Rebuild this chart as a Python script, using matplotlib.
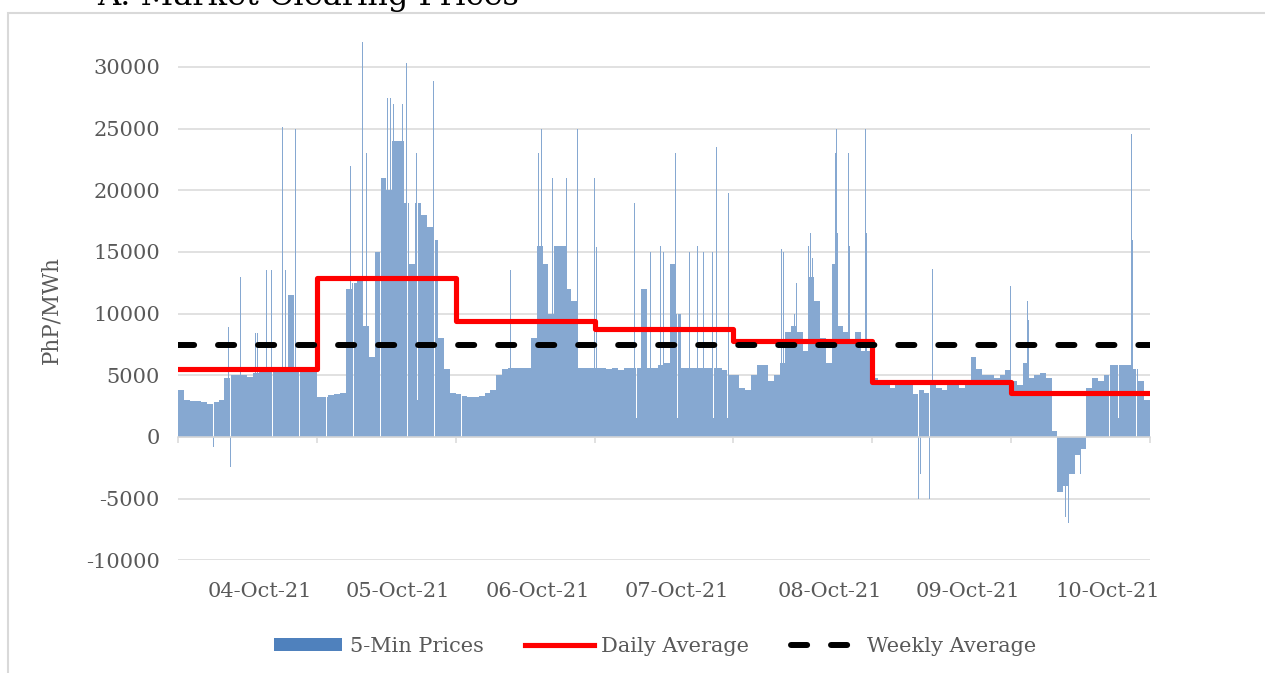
import matplotlib
matplotlib.use('Agg')
import matplotlib.pyplot as plt
from matplotlib.patches import Rectangle, Patch
from matplotlib.lines import Line2D
import numpy as np

plt.rcParams['axes.unicode_minus'] = False

# hourly price level (PhP/MWh), 24 values per day
oct04 = [3800, 3000, 2900, 2900, 2800, 2700, 2800, 3000, 4800, 5000, 5000, 5000,
         4900, 5200, 5400, 5500, 5500, 5500, 5500, 11500, 5500, 5500, 5500, 5500]
oct05 = [3200, 3200, 3400, 3500, 3600, 12000, 12500, 13000, 9000, 6500, 15000, 21000,
         20000, 24000, 24000, 19000, 14000, 19000, 18000, 17000, 16000, 8000, 5500, 3600]
oct06 = [3500, 3300, 3200, 3200, 3300, 3600, 3800, 5000, 5500, 5600, 5600, 5600,
         5600, 8000, 15500, 14000, 10000, 15500, 15500, 12000, 11000, 5600, 5600, 5600]
oct07 = [5600, 5600, 5500, 5600, 5400, 5600, 5600, 5600, 12000, 5600, 5600, 5800,
         6000, 14000, 10000, 5600, 5600, 5600, 5600, 5600, 5600, 5600, 5400, 5000]
oct08 = [5000, 4000, 3800, 5000, 5800, 5800, 4500, 5000, 6000, 8500, 9000, 8500,
         7000, 13000, 11000, 8000, 6000, 14000, 9000, 8500, 7500, 8500, 7000, 7000]
oct09 = [4800, 4300, 4200, 4000, 4300, 4400, 4300, 3500, 3800, 3600, 4200, 4000,
         3800, 4200, 4600, 4000, 4400, 6500, 5500, 5000, 5000, 4800, 5000, 5400]
oct10 = [4500, 4200, 6000, 4800, 5000, 5200, 4800, 500, -4500, -4000, -3000, -1500,
         -1000, 4000, 4800, 4500, 5000, 5800, 5800, 5800, 5800, 5500, 4500, 3000]

# single 5-min intervals (interval index, price) that stand out from the hourly level
spikes = [
    # 04-Oct
    (60, -1000), (73, -800), (85, -1000), (95, -3600), (104, 8900), (108, -2400),
    (120, -4500), (122, 14900), (129, 13000), (160, 8400), (164, 8400), (183, 13500),
    (193, 13500), (197, 10000), (216, 25100), (217, 13500), (222, 13500), (226, 1500),
    (232, 21500), (236, 22000), (243, 25000), (253, 24000), (255, 13500), (265, 13500),
    # 05-Oct
    (357, 22000), (365, 23000), (373, -1000), (375, 22000), (382, 32000), (390, 23000),
    (400, 4000), (419, 28300), (425, 27000), (427, 32000), (431, 8000), (434, 27500),
    (440, 27500), (446, 27000), (456, 27500), (465, 27000), (473, 30300), (485, 9000),
    (487, 24600), (494, 23000), (496, 3000), (504, 19500), (512, 23000), (529, 28900),
    (533, 8000), (543, 28400), (545, 22000), (564, 3000),
    # 06-Oct
    (601, 1500), (674, 13000), (678, 13500), (684, 1500), (689, 13500), (703, 21000),
    (713, 32000), (734, 15400), (747, 23000), (753, 25000), (759, 25000), (765, 2000),
    (767, 17600), (776, 21000), (784, 25000), (788, 28400), (796, 22000), (805, 21000),
    (815, 30900), (819, 25000), (823, 23000), (828, 25000), (840, 19000), (850, 24200),
    (863, 21000),
    # 07-Oct
    (867, 15400), (869, 1500), (900, 15400), (904, 14000), (933, 15400), (946, 19000),
    (950, 1500), (952, 15000), (958, 15000), (966, 15500), (968, 23000), (970, 15500),
    (979, 15000), (989, 23000), (991, 25000), (993, 23500), (1000, 15500), (1006, 15000),
    (1031, 23000), (1035, 1500), (1043, 25000), (1045, 23000), (1060, 15000),
    (1077, 15500), (1089, 15000), (1103, 23200), (1108, 15000), (1110, 1500),
    (1116, 23500), (1128, 25000), (1130, 15500), (1139, 1500), (1141, 19800), (1151, 18400),
    # 08-Oct
    (1244, 15200), (1246, 19000), (1251, 15200), (1255, 15000), (1271, -3200),
    (1278, 10000), (1282, 12500), (1302, 1500), (1307, 15500), (1311, 16500),
    (1315, 14500), (1323, 15500), (1363, 23000), (1365, 25000), (1367, 16500),
    (1373, 12000), (1390, 23000), (1392, 15500), (1402, 15500), (1408, 2000),
    (1410, 14500), (1414, 16500), (1425, 25000), (1427, 16500), (1435, 9500),
    # 09-Oct
    (1522, 1000), (1535, -5000), (1539, -3000), (1545, -8000), (1558, -5000),
    (1564, 13600), (1655, 15500), (1657, 10000), (1680, 15500), (1682, 15400),
    (1713, 9500), (1726, 12200),
    # 10-Oct
    (1761, 11000), (1763, 9500), (1823, -8200), (1829, -7000), (1840, -6500),
    (1846, -7000), (1854, -5000), (1871, -3000), (1879, -4700), (1908, 9100),
    (1918, 13300), (1935, 16000), (1939, 25000), (1941, 23000), (1943, 16000),
    (1950, 1500), (1964, 9000), (1977, 24600), (1979, 16000), (1987, 7000),
]

daily_avg = [5513, 12870, 9405, 8757, 7784, 4487, 3540]
weekly_avg = 7459
day_labels = ['04-Oct-21', '05-Oct-21', '06-Oct-21', '07-Oct-21',
              '08-Oct-21', '09-Oct-21', '10-Oct-21']

# 5-min series: hourly level on every interval, then the single intervals
hourly = np.concatenate([oct04, oct05, oct06, oct07, oct08, oct09, oct10])
prices = np.repeat(hourly, 12).astype(float)
for i, v in spikes:
    prices[i] = v

n = len(prices)
per_day = n // len(daily_avg)
day_edges = np.arange(len(daily_avg) + 1) * per_day

W, H = 1265, 673
fig = plt.figure(figsize=(W / 100, H / 100), dpi=100)
serif = 'DejaVu Serif'
grey = '#595959'

ax = fig.add_axes([178 / W, 1 - 560.3 / H, 972 / W, 518 / H])
ax.set_xlim(0, n)
ax.set_ylim(-10000, 32000)

ax.bar(np.arange(n) + 0.5, prices, width=1.0, color='#86a8d1', linewidth=0, zorder=2)

ax.step(day_edges, daily_avg + [daily_avg[-1]], where='post', color='#ff0000',
        lw=3.7, zorder=3)
ax.plot([0, n], [weekly_avg, weekly_avg], color='black', lw=4.3,
        linestyle=(0, (2.7, 4.0)), dash_capstyle='round', zorder=4)

# axes styling
ax.set_yticks(np.arange(-10000, 30001, 5000))
ax.yaxis.grid(True, color='#d9d9d9', lw=1.1)
ax.set_axisbelow(True)
for s in ['left', 'right', 'top']:
    ax.spines[s].set_visible(False)
ax.spines['bottom'].set_position(('data', 0))
ax.spines['bottom'].set_color('#d9d9d9')
ax.spines['bottom'].set_linewidth(1.1)
ax.set_xticks(day_edges)
ax.tick_params(axis='x', direction='out', length=4, width=1.1, color='#d9d9d9',
               labelbottom=False)
ax.tick_params(axis='y', length=0, pad=13, labelsize=15, labelcolor=grey)
for lbl in ax.get_yticklabels():
    lbl.set_fontfamily(serif)

label_offsets = [170, 168, 171, 171, 200, 198, 201]
for start, off, lab in zip(day_edges[:-1], label_offsets, day_labels):
    ax.text(start + off, -0.061, lab, transform=ax.get_xaxis_transform(),
            ha='center', va='center', fontsize=15, color=grey, family=serif)

ax.set_ylabel('PhP/MWh', fontsize=15.5, color=grey, family=serif)
ax.yaxis.set_label_coords(-0.119, 0.483)

# title (cut by the top of the picture) and outer frame
fig.text(97 / W, 1 - 5 / H, 'A. Market Clearing Prices', ha='left', va='baseline',
         fontsize=23, family=serif, color='black')
fig.patches.append(Rectangle((8 / W, -0.05), 1.0, 1.05 - 13 / H, transform=fig.transFigure,
                             fill=False, edgecolor='#d9d9d9', lw=1.5))

handles = [Patch(facecolor='#4f81bd', edgecolor='none'),
           Line2D([], [], color='#ff0000', lw=3.7),
           Line2D([], [], color='black', lw=4.3, linestyle=(0, (2.7, 4.0)),
                  dash_capstyle='round')]
fig.legend(handles, ['5-Min Prices', 'Daily Average', 'Weekly Average'],
           loc='center', bbox_to_anchor=(655 / W, 1 - 646 / H), ncol=3, frameon=False,
           prop={'family': serif, 'size': 15}, labelcolor=grey,
           handlelength=3.3, handleheight=0.6, handletextpad=0.35, columnspacing=2.0)

fig.savefig('out.png', dpi=100)
